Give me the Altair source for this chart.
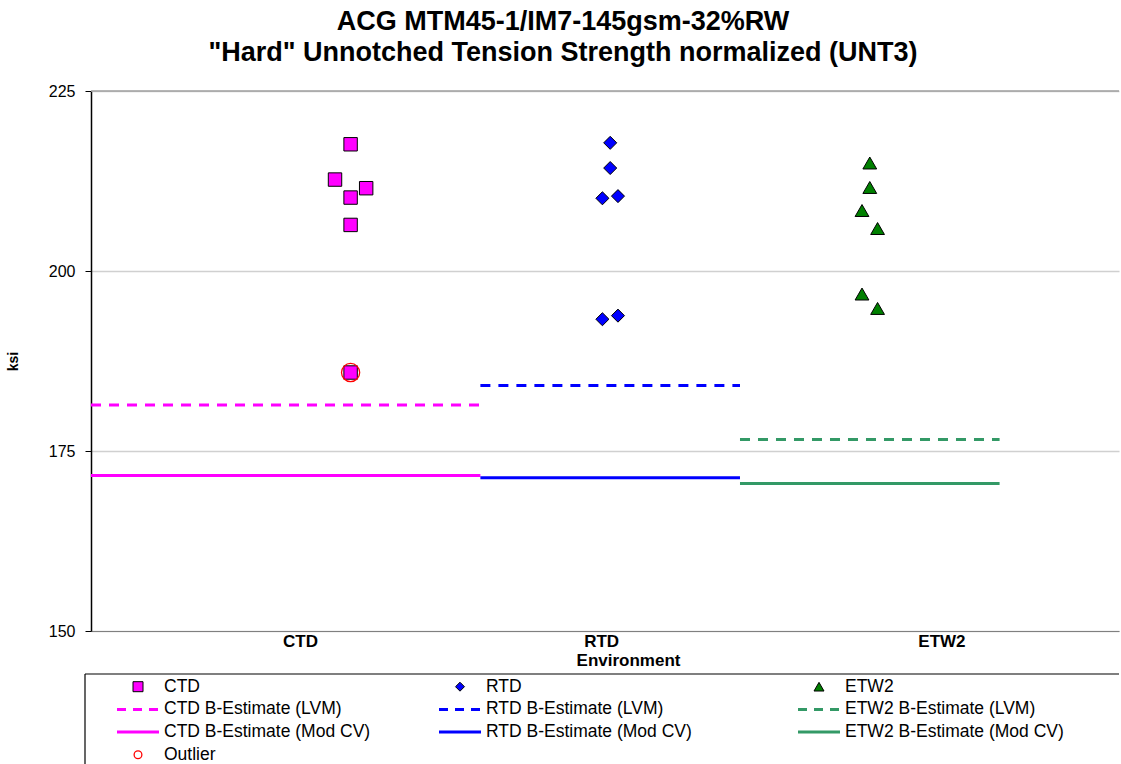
import altair as alt
import pandas as pd

# ---------------- data ----------------
categories = ["CTD", "RTD", "ETW2"]

ctd_x = [1.00, 0.94, 1.06, 1.00, 1.00, 1.00]
ctd_y = [217.6, 212.7, 211.5, 210.2, 206.4, 185.9]
rtd_x = [2.00, 2.00, 1.97, 2.03, 1.97, 2.03]
rtd_y = [217.8, 214.3, 210.1, 210.4, 193.3, 193.8]
etw2_x = [3.00, 3.00, 2.97, 3.03, 2.97, 3.03]
etw2_y = [215.0, 211.6, 208.4, 205.9, 196.8, 194.8]
outlier_x = [1.00]
outlier_y = [185.9]

lvm_values = [181.4, 184.1, 176.6]
modcv_values = [171.6, 171.3, 170.5]
span_start = [0.0, 1.5, 2.5]
span_end = [1.5, 2.5, 3.5]

y_ticks = [150, 175, 200, 225]
x_label_pos = [0.805, 1.965, 3.276]

legend_labels = [
    ["CTD", "CTD B-Estimate (LVM)", "CTD B-Estimate (Mod CV)", "Outlier"],
    ["RTD", "RTD B-Estimate (LVM)", "RTD B-Estimate (Mod CV)"],
    ["ETW2", "ETW2 B-Estimate (LVM)", "ETW2 B-Estimate (Mod CV)"],
]

# ---------------- styles ----------------
FONT = "Liberation Sans"
line_colors = ["#FF00FF", "#0000FF", "#339966"]
marker_fill = ["#FF00FF", "#0000FF", "#008000"]
marker_shape = ["square", "diamond", "triangle-up"]
marker_size = [180, 170, 190]
legend_marker_size = [100, 80, 100]

PW, PH = 1028, 540
LW, LH = 1028, 90
leg_col_center = [47, 369, 728]
leg_row_y0, leg_row_step = 12.7, 22.7

# ---------------- main plot ----------------
xscale = alt.Scale(domain=[0, 3.96], nice=False, zero=False)
yscale = alt.Scale(domain=[150, 225], nice=False, zero=False)

xaxis = alt.Axis(
    values=x_label_pos,
    labelExpr="datum.value < 1.5 ? 'CTD' : (datum.value < 2.5 ? 'RTD' : 'ETW2')",
    ticks=False, grid=False, domainColor="#808080", domainWidth=1,
    labelFont=FONT, labelFontSize=17, labelFontWeight="bold", labelColor="black",
    labelPadding=2, labelOverlap=False, labelFlush=False,
    title="Environment", titleFont=FONT, titleFontSize=17, titleFontWeight="bold",
    titleColor="black", titleX=537, titlePadding=3,
)
yaxis = alt.Axis(
    values=y_ticks, tickSize=6, tickColor="black", domainColor="black", domainWidth=1.5,
    gridColor="#d0d0d0", gridWidth=1.5,
    labelFont=FONT, labelFontSize=16, labelColor="black", labelPadding=10,
    title="ksi", titleFont=FONT, titleFontSize=14, titleFontWeight="bold",
    titleColor="black", titlePadding=28,
)

# top border of plot area
top_df = pd.DataFrame({"y": [y_ticks[-1]]})
top_rule = alt.Chart(top_df).mark_rule(color="#a0a0a0", strokeWidth=1.5).encode(
    y=alt.Y("y:Q", scale=yscale, axis=yaxis)
)

est_rows = []
for i, c in enumerate(categories):
    est_rows.append({"env": c, "kind": "LVM", "x": span_start[i], "x2": span_end[i], "y": lvm_values[i]})
    est_rows.append({"env": c, "kind": "ModCV", "x": span_start[i], "x2": span_end[i], "y": modcv_values[i]})
est_df = pd.DataFrame(est_rows)
color_scale = alt.Scale(domain=categories, range=line_colors)

lvm_rules = alt.Chart(est_df[est_df.kind == "LVM"]).mark_rule(
    strokeWidth=3, strokeDash=[10, 8]
).encode(
    x=alt.X("x:Q", scale=xscale, axis=xaxis), x2="x2:Q",
    y=alt.Y("y:Q", scale=yscale, axis=yaxis),
    color=alt.Color("env:N", scale=color_scale, legend=None),
)
mod_rules = alt.Chart(est_df[est_df.kind == "ModCV"]).mark_rule(strokeWidth=3).encode(
    x=alt.X("x:Q", scale=xscale, axis=xaxis), x2="x2:Q",
    y=alt.Y("y:Q", scale=yscale, axis=yaxis),
    color=alt.Color("env:N", scale=color_scale, legend=None),
)

point_layers = []
for i, (xs, ys) in enumerate([(ctd_x, ctd_y), (rtd_x, rtd_y), (etw2_x, etw2_y)]):
    df = pd.DataFrame({"x": xs, "y": ys})
    point_layers.append(
        alt.Chart(df).mark_point(
            shape=marker_shape[i], size=marker_size[i], filled=True, fill=marker_fill[i],
            stroke="black", strokeWidth=1, opacity=1,
        ).encode(
            x=alt.X("x:Q", scale=xscale, axis=xaxis),
            y=alt.Y("y:Q", scale=yscale, axis=yaxis),
        )
    )

out_df = pd.DataFrame({"x": outlier_x, "y": outlier_y})
outlier = alt.Chart(out_df).mark_point(
    shape="circle", size=330, filled=False, stroke="red", strokeWidth=1.3, opacity=1
).encode(
    x=alt.X("x:Q", scale=xscale, axis=xaxis),
    y=alt.Y("y:Q", scale=yscale, axis=yaxis),
)

main = alt.layer(top_rule, lvm_rules, mod_rules, *point_layers, outlier).properties(
    width=PW, height=PH
)

# ---------------- legend panel ----------------
sym_rows, line_rows, text_rows, circ_rows = [], [], [], []
for ci, labels in enumerate(legend_labels):
    cx = leg_col_center[ci]
    for ri, lab in enumerate(labels):
        ry = leg_row_y0 + ri * leg_row_step
        text_rows.append({"x": cx + 26, "y": ry, "label": lab})
        if ri == 0:
            sym_rows.append({"x": cx, "y": ry, "env": categories[ci]})
        elif ri in (1, 2):
            line_rows.append({"x": cx - 21, "x2": cx + 21, "y": ry,
                              "env": categories[ci], "dash": "LVM" if ri == 1 else "ModCV"})
        else:
            circ_rows.append({"x": cx, "y": ry})

lx = alt.Scale(domain=[0, LW], nice=False, zero=False)
ly = alt.Scale(domain=[LH, 0], nice=False, zero=False)
noax = None

legend_layers = []
box_df = pd.DataFrame({"x": [-6], "x2": [LW], "y": [0], "y2": [LH]})
legend_layers.append(
    alt.Chart(box_df).mark_rule(color="black", strokeWidth=1.2).encode(
        x=alt.X("x:Q", scale=lx, axis=noax), x2="x2:Q", y=alt.Y("y:Q", scale=ly, axis=noax)
    )
)
legend_layers.append(
    alt.Chart(box_df).mark_rule(color="black", strokeWidth=1.2).encode(
        x=alt.X("x:Q", scale=lx, axis=noax), y=alt.Y("y:Q", scale=ly, axis=noax), y2="y2:Q"
    )
)
for ci in range(3):
    df = pd.DataFrame([r for r in sym_rows if r["env"] == categories[ci]])
    legend_layers.append(
        alt.Chart(df).mark_point(
            shape=marker_shape[ci], size=legend_marker_size[ci], filled=True,
            fill=marker_fill[ci], stroke="black", strokeWidth=1, opacity=1,
        ).encode(x=alt.X("x:Q", scale=lx, axis=noax), y=alt.Y("y:Q", scale=ly, axis=noax))
    )
ldf = pd.DataFrame(line_rows)
legend_layers.append(
    alt.Chart(ldf[ldf.dash == "LVM"]).mark_rule(strokeWidth=3, strokeDash=[9, 7]).encode(
        x=alt.X("x:Q", scale=lx, axis=noax), x2="x2:Q", y=alt.Y("y:Q", scale=ly, axis=noax),
        color=alt.Color("env:N", scale=color_scale, legend=None),
    )
)
legend_layers.append(
    alt.Chart(ldf[ldf.dash == "ModCV"]).mark_rule(strokeWidth=3).encode(
        x=alt.X("x:Q", scale=lx, axis=noax), x2="x2:Q", y=alt.Y("y:Q", scale=ly, axis=noax),
        color=alt.Color("env:N", scale=color_scale, legend=None),
    )
)
legend_layers.append(
    alt.Chart(pd.DataFrame(circ_rows)).mark_point(
        shape="circle", size=60, filled=False, stroke="red", strokeWidth=1.3, opacity=1
    ).encode(x=alt.X("x:Q", scale=lx, axis=noax), y=alt.Y("y:Q", scale=ly, axis=noax))
)
legend_layers.append(
    alt.Chart(pd.DataFrame(text_rows)).mark_text(
        align="left", baseline="middle", font=FONT, fontSize=17.5, color="black"
    ).encode(
        x=alt.X("x:Q", scale=lx, axis=noax), y=alt.Y("y:Q", scale=ly, axis=noax), text="label:N"
    )
)

legend_panel = alt.layer(*legend_layers).properties(width=LW, height=LH)

chart = alt.vconcat(main, legend_panel, spacing=43, bounds="flush").properties(
    title=alt.TitleParams(
        text=["ACG MTM45-1/IM7-145gsm-32%RW", "\"Hard\" Unnotched Tension Strength normalized (UNT3)"],
        font=FONT, fontSize=27, fontWeight="bold", color="black", anchor="middle",
        lineHeight=31, offset=16,
    ),
    padding={"left": 6, "top": 8, "right": 0, "bottom": 0},
).configure(background="white").configure_view(stroke=None)

chart.save("out.html", embed_options={"renderer": "svg", "actions": False})
